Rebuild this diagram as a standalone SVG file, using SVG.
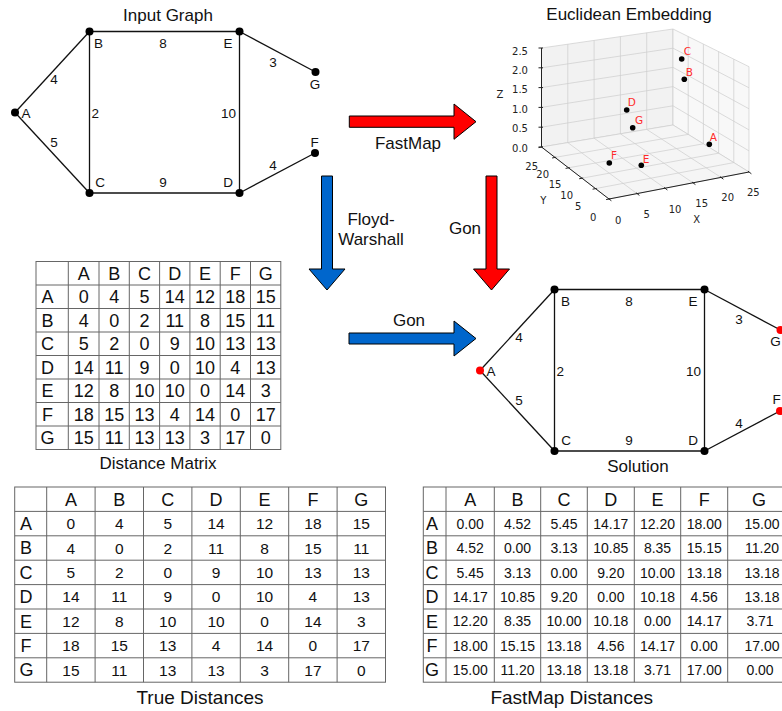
<svg xmlns="http://www.w3.org/2000/svg" width="782" height="711" viewBox="0 0 782 711">
<style>
  text { font-family: "Liberation Sans", Arial, sans-serif; fill: #111; }
  .cap { font-size: 17px; text-anchor: middle; }
  .cap19 { font-size: 19px; text-anchor: middle; }
  .lbl { font-size: 13.5px; text-anchor: middle; }
  .edge { stroke: #111; stroke-width: 1.3; fill: none; }
  .dot { fill: #000; }
  .sel { fill: #f00; }
  .arR { fill: #f00; stroke: #000; stroke-width: 1; }
  .arB { fill: #0066cc; stroke: #000; stroke-width: 1; }
  .tbl { fill: none; stroke: #666; stroke-width: 1; }
  .t18 { font-size: 18px; text-anchor: middle; }
  .t15 { font-size: 15.5px; text-anchor: middle; }
  .t13 { font-size: 14px; text-anchor: middle; }
  .grid { fill: none; stroke: #cdcdcd; stroke-width: 0.7; }
  .axis { fill: none; stroke: #222; stroke-width: 1; }
  .tick { font-family: "DejaVu Sans", sans-serif; font-size: 10px; fill: #222; text-anchor: middle; }
  .ptl { font-family: "DejaVu Sans", sans-serif; font-size: 10.5px; fill: #ff2a2a; text-anchor: middle; }
</style>

<!-- ================= Input graph ================= -->
<g id="input-graph">
  <text class="cap" x="168" y="20.5">Input Graph</text>
  <g id="input-edges" class="edge">
    <line x1="15" y1="112.5" x2="89.5" y2="31.5"/>
    <line x1="15" y1="112.5" x2="89.5" y2="193"/>
    <line x1="89.5" y1="31.5" x2="239.5" y2="31.5"/>
    <line x1="89.5" y1="31.5" x2="89.5" y2="193"/>
    <line x1="89.5" y1="193" x2="239.5" y2="193"/>
    <line x1="239.5" y1="31.5" x2="239.5" y2="193"/>
    <line x1="239.5" y1="31.5" x2="315.5" y2="72"/>
    <line x1="239.5" y1="193" x2="315" y2="153"/>
  </g>
  <g id="input-weights">
    <text class="lbl" x="54" y="83.8">4</text>
    <text class="lbl" x="54" y="147.3">5</text>
    <text class="lbl" x="163" y="48.3">8</text>
    <text class="lbl" x="95.3" y="117.8">2</text>
    <text class="lbl" x="228.5" y="117.8">10</text>
    <text class="lbl" x="163" y="186.8">9</text>
    <text class="lbl" x="273" y="66.8">3</text>
    <text class="lbl" x="273" y="169.8">4</text>
  </g>
  <g id="in-A"><circle class="dot" cx="15" cy="112.5" r="4"/><text class="lbl" x="26" y="117.8">A</text></g>
  <g id="in-B"><circle class="dot" cx="89.5" cy="31.5" r="4"/><text class="lbl" x="98.5" y="48.3">B</text></g>
  <g id="in-E"><circle class="dot" cx="239.5" cy="31.5" r="4"/><text class="lbl" x="228" y="48.3">E</text></g>
  <g id="in-C"><circle class="dot" cx="89.5" cy="193" r="4"/><text class="lbl" x="100" y="186.8">C</text></g>
  <g id="in-D"><circle class="dot" cx="239.5" cy="193" r="4"/><text class="lbl" x="228" y="186.8">D</text></g>
  <g id="in-G"><circle class="dot" cx="315.5" cy="72" r="4"/><text class="lbl" x="315" y="88.8">G</text></g>
  <g id="in-F"><circle class="dot" cx="315" cy="153" r="4"/><text class="lbl" x="314.5" y="146.8">F</text></g>
</g>

<!-- ================= Process arrows ================= -->
<g id="arrows">
  <polygon id="arrow-fastmap" class="arR" points="349.3,116 454,116 454,104 476,121.7 454,139.3 454,127.3 349.3,127.3"/>
  <text class="cap" x="408" y="149">FastMap</text>

  <polygon id="arrow-floyd" class="arB" points="321.5,176 332.5,176 332.5,269 345,269 327,290 309,269 321.5,269"/>
  <text class="cap" x="371" y="225">Floyd-</text>
  <text class="cap" x="371" y="245">Warshall</text>

  <polygon id="arrow-gon-embed" class="arR" points="486,176 497,176 497,269 509.5,269 491.5,290 473.5,269 486,269"/>
  <text class="cap" x="465" y="234">Gon</text>

  <polygon id="arrow-gon-matrix" class="arB" points="349,333 454,333 454,321 476,338.5 454,356 454,344 349,344"/>
  <text class="cap" x="409" y="326">Gon</text>
</g>

<!-- ================= Euclidean embedding (3D scatter) ================= -->
<g id="embedding">
  <text class="cap" x="629" y="20">Euclidean Embedding</text>
  <!-- back panes and floor -->
  <polygon points="541.5,147 673,125 673,29 541.5,48" fill="#f2f2f2" stroke="#cdcdcd" stroke-width="0.7"/>
  <polygon points="673,125 749,172 749,66.7 673,29" fill="#f8f8f8" stroke="#cdcdcd" stroke-width="0.7"/>
  <polygon points="609,199 749,172 673,125 541.5,147" fill="#f5f5f5" stroke="#cdcdcd" stroke-width="0.7"/>
  <path class="grid" d="
    M567.8,142.6 L567.8,44.2 M594.1,138.2 L594.1,40.4 M620.4,133.8 L620.4,36.6 M646.7,129.4 L646.7,32.8
    M541.5,127.2 L673,105.8 M541.5,107.4 L673,86.6 M541.5,87.6 L673,67.4 M541.5,67.8 L673,48.2
    M688.2,134.4 L688.2,36.5 M703.4,143.8 L703.4,44.1 M718.6,153.2 L718.6,51.6 M733.8,162.6 L733.8,59.2
    M673,105.8 L749,150.9 M673,86.6 L749,129.9 M673,67.4 L749,108.8 M673,48.2 L749,87.8
    M637,193.6 L567.8,142.6 M665,188.2 L594.1,138.2 M693,182.8 L620.4,133.8 M721,177.4 L646.7,129.4
    M595.5,188.6 L733.8,162.6 M582,178.2 L718.6,153.2 M568.5,167.8 L703.4,143.8 M555,157.4 L688.2,134.4"/>
  <!-- axis lines and ticks -->
  <path class="axis" d="M541.5,48 L541.5,147 M541.5,147 L609,199 L749,172"/>
  <path class="axis" stroke-width="0.8" d="
    M538.5,48H543 M538.5,67.8H543 M538.5,87.6H543 M538.5,107.4H543 M538.5,127.2H543 M538.5,147H543
    M542.7,146.8L538.6,147.6 M556.2,157.2L552.1,158 M569.7,167.6L565.6,168.4 M583.2,178L579.1,178.8 M596.7,188.4L592.6,189.2 M610.2,198.8L606.1,199.6
    M608,198.2L611.4,200.8 M636,192.8L639.4,195.4 M664,187.4L667.4,190 M692,182L695.4,184.6 M720,176.6L723.4,179.2 M748,171.2L751.4,173.8"/>
  <!-- tick labels -->
  <text class="tick" x="520" y="55.3">2.5</text>
  <text class="tick" x="520" y="74.1">2.0</text>
  <text class="tick" x="520" y="92.9">1.5</text>
  <text class="tick" x="520" y="112.6">1.0</text>
  <text class="tick" x="520" y="132.4">0.5</text>
  <text class="tick" x="520" y="151.6">0.0</text>
  <text class="tick" x="500" y="97.9">Z</text>

  <text class="tick" x="531.7" y="169.6">25</text>
  <text class="tick" x="542.7" y="177.9">20</text>
  <text class="tick" x="555" y="187.9">15</text>
  <text class="tick" x="566.7" y="198.6">10</text>
  <text class="tick" x="578.3" y="209.6">5</text>
  <text class="tick" x="593.3" y="220.9">0</text>
  <text class="tick" x="543.3" y="203.6">Y</text>

  <text class="tick" x="618.3" y="223.6">0</text>
  <text class="tick" x="646.7" y="217.6">5</text>
  <text class="tick" x="675" y="212.6">10</text>
  <text class="tick" x="701.7" y="206.9">15</text>
  <text class="tick" x="727.7" y="201.3">20</text>
  <text class="tick" x="753.3" y="195.9">25</text>
  <text class="tick" x="696.7" y="222.9">X</text>
  <!-- embedded points -->
  <g id="emb-C"><circle class="dot" cx="681.7" cy="59" r="2.8"/><text class="ptl" x="687.3" y="54.8">C</text></g>
  <g id="emb-B"><circle class="dot" cx="684.3" cy="79.3" r="2.8"/><text class="ptl" x="689.3" y="75.5">B</text></g>
  <g id="emb-D"><circle class="dot" cx="626.7" cy="110" r="2.8"/><text class="ptl" x="631.7" y="106.1">D</text></g>
  <g id="emb-G"><circle class="dot" cx="632.7" cy="127.7" r="2.8"/><text class="ptl" x="639" y="123.8">G</text></g>
  <g id="emb-A"><circle class="dot" cx="709.3" cy="144.3" r="2.8"/><text class="ptl" x="713.3" y="140.5">A</text></g>
  <g id="emb-F"><circle class="dot" cx="609.3" cy="163" r="2.8"/><text class="ptl" x="614" y="158.8">F</text></g>
  <g id="emb-E"><circle class="dot" cx="641.3" cy="165.3" r="2.8"/><text class="ptl" x="646" y="162.8">E</text></g>
</g>

<!-- ================= Distance matrix ================= -->
<g id="distance-matrix">
  <rect class="tbl" x="36" y="261.5" width="244.8" height="188"/>
  <path class="tbl" d="
    M68.3,261.5V449.5 M99,261.5V449.5 M129.3,261.5V449.5 M159.6,261.5V449.5 M189.9,261.5V449.5 M220.2,261.5V449.5 M250.5,261.5V449.5
    M36,285H280.8 M36,308.5H280.8 M36,332H280.8 M36,355.5H280.8 M36,379H280.8 M36,402.5H280.8 M36,426H280.8"/>
  <g class="t18">
    <text y="279.7"><tspan x="83.65">A</tspan><tspan x="114.15">B</tspan><tspan x="144.45">C</tspan><tspan x="174.75">D</tspan><tspan x="205.05">E</tspan><tspan x="235.35">F</tspan><tspan x="265.65">G</tspan></text>
    <text y="303.2"><tspan x="47.5">A</tspan><tspan x="83.65">0</tspan><tspan x="114.15">4</tspan><tspan x="144.45">5</tspan><tspan x="174.75">14</tspan><tspan x="205.05">12</tspan><tspan x="235.35">18</tspan><tspan x="265.65">15</tspan></text>
    <text y="326.7"><tspan x="47.5">B</tspan><tspan x="83.65">4</tspan><tspan x="114.15">0</tspan><tspan x="144.45">2</tspan><tspan x="174.75">11</tspan><tspan x="205.05">8</tspan><tspan x="235.35">15</tspan><tspan x="265.65">11</tspan></text>
    <text y="350.2"><tspan x="47.5">C</tspan><tspan x="83.65">5</tspan><tspan x="114.15">2</tspan><tspan x="144.45">0</tspan><tspan x="174.75">9</tspan><tspan x="205.05">10</tspan><tspan x="235.35">13</tspan><tspan x="265.65">13</tspan></text>
    <text y="373.7"><tspan x="47.5">D</tspan><tspan x="83.65">14</tspan><tspan x="114.15">11</tspan><tspan x="144.45">9</tspan><tspan x="174.75">0</tspan><tspan x="205.05">10</tspan><tspan x="235.35">4</tspan><tspan x="265.65">13</tspan></text>
    <text y="397.2"><tspan x="47.5">E</tspan><tspan x="83.65">12</tspan><tspan x="114.15">8</tspan><tspan x="144.45">10</tspan><tspan x="174.75">10</tspan><tspan x="205.05">0</tspan><tspan x="235.35">14</tspan><tspan x="265.65">3</tspan></text>
    <text y="420.7"><tspan x="47.5">F</tspan><tspan x="83.65">18</tspan><tspan x="114.15">15</tspan><tspan x="144.45">13</tspan><tspan x="174.75">4</tspan><tspan x="205.05">14</tspan><tspan x="235.35">0</tspan><tspan x="265.65">17</tspan></text>
    <text y="444.2"><tspan x="47.5">G</tspan><tspan x="83.65">15</tspan><tspan x="114.15">11</tspan><tspan x="144.45">13</tspan><tspan x="174.75">13</tspan><tspan x="205.05">3</tspan><tspan x="235.35">17</tspan><tspan x="265.65">0</tspan></text>
  </g>
  <text class="cap" x="158" y="468.5">Distance Matrix</text>
</g>

<!-- ================= Solution graph (same layout, centres in red) ================= -->
<g id="solution" transform="translate(465,258)">
  <g id="solution-edges" class="edge">
    <line x1="15" y1="112.5" x2="89.5" y2="31.5"/>
    <line x1="15" y1="112.5" x2="89.5" y2="193"/>
    <line x1="89.5" y1="31.5" x2="239.5" y2="31.5"/>
    <line x1="89.5" y1="31.5" x2="89.5" y2="193"/>
    <line x1="89.5" y1="193" x2="239.5" y2="193"/>
    <line x1="239.5" y1="31.5" x2="239.5" y2="193"/>
    <line x1="239.5" y1="31.5" x2="315.5" y2="72"/>
    <line x1="239.5" y1="193" x2="315" y2="153"/>
  </g>
  <g id="solution-weights">
    <text class="lbl" x="54" y="83.8">4</text>
    <text class="lbl" x="54" y="147.3">5</text>
    <text class="lbl" x="164" y="48.3">8</text>
    <text class="lbl" x="95.3" y="117.8">2</text>
    <text class="lbl" x="228.5" y="117.8">10</text>
    <text class="lbl" x="164" y="186.8">9</text>
    <text class="lbl" x="274" y="65.8">3</text>
    <text class="lbl" x="274" y="169.8">4</text>
  </g>
  <g id="sol-A"><circle class="sel" cx="15" cy="112.5" r="4"/><text class="lbl" x="26" y="117.8">A</text></g>
  <g id="sol-B"><circle class="dot" cx="89.5" cy="31.5" r="4"/><text class="lbl" x="100.5" y="48.3">B</text></g>
  <g id="sol-E"><circle class="dot" cx="239.5" cy="31.5" r="4"/><text class="lbl" x="228" y="48.3">E</text></g>
  <g id="sol-C"><circle class="dot" cx="89.5" cy="193" r="4"/><text class="lbl" x="101" y="186.8">C</text></g>
  <g id="sol-D"><circle class="dot" cx="239.5" cy="193" r="4"/><text class="lbl" x="228" y="186.8">D</text></g>
  <g id="sol-G"><circle class="sel" cx="315.5" cy="72" r="4"/><text class="lbl" x="310.5" y="88.3">G</text></g>
  <g id="sol-F"><circle class="sel" cx="315" cy="153" r="4"/><text class="lbl" x="311.5" y="145.8">F</text></g>
</g>
<text class="cap" x="638" y="472">Solution</text>

<!-- ================= True distances table ================= -->
<g id="true-distances">
  <rect class="tbl" x="14.7" y="487" width="370.8" height="195.2"/>
  <path class="tbl" d="
    M46.7,487V682.2 M95.1,487V682.2 M143.5,487V682.2 M191.9,487V682.2 M240.3,487V682.2 M288.7,487V682.2 M337.1,487V682.2
    M14.7,511.4H385.5 M14.7,535.8H385.5 M14.7,560.2H385.5 M14.7,584.6H385.5 M14.7,609H385.5 M14.7,633.4H385.5 M14.7,657.8H385.5"/>
  <g class="t18">
    <text y="505.6"><tspan x="70.9">A</tspan><tspan x="119.3">B</tspan><tspan x="167.7">C</tspan><tspan x="216.1">D</tspan><tspan x="264.5">E</tspan><tspan x="312.9">F</tspan><tspan x="361.3">G</tspan></text>
    <text x="26" y="530">A</text>
    <text x="26" y="554.4">B</text>
    <text x="26" y="578.8">C</text>
    <text x="26" y="603.2">D</text>
    <text x="26" y="627.6">E</text>
    <text x="26" y="652">F</text>
    <text x="26.5" y="676.4">G</text>
  </g>
  <g class="t15">
    <text y="529.2"><tspan x="70.9">0</tspan><tspan x="119.3">4</tspan><tspan x="167.7">5</tspan><tspan x="216.1">14</tspan><tspan x="264.5">12</tspan><tspan x="312.9">18</tspan><tspan x="361.3">15</tspan></text>
    <text y="553.6"><tspan x="70.9">4</tspan><tspan x="119.3">0</tspan><tspan x="167.7">2</tspan><tspan x="216.1">11</tspan><tspan x="264.5">8</tspan><tspan x="312.9">15</tspan><tspan x="361.3">11</tspan></text>
    <text y="578"><tspan x="70.9">5</tspan><tspan x="119.3">2</tspan><tspan x="167.7">0</tspan><tspan x="216.1">9</tspan><tspan x="264.5">10</tspan><tspan x="312.9">13</tspan><tspan x="361.3">13</tspan></text>
    <text y="602.4"><tspan x="70.9">14</tspan><tspan x="119.3">11</tspan><tspan x="167.7">9</tspan><tspan x="216.1">0</tspan><tspan x="264.5">10</tspan><tspan x="312.9">4</tspan><tspan x="361.3">13</tspan></text>
    <text y="626.8"><tspan x="70.9">12</tspan><tspan x="119.3">8</tspan><tspan x="167.7">10</tspan><tspan x="216.1">10</tspan><tspan x="264.5">0</tspan><tspan x="312.9">14</tspan><tspan x="361.3">3</tspan></text>
    <text y="651.2"><tspan x="70.9">18</tspan><tspan x="119.3">15</tspan><tspan x="167.7">13</tspan><tspan x="216.1">4</tspan><tspan x="264.5">14</tspan><tspan x="312.9">0</tspan><tspan x="361.3">17</tspan></text>
    <text y="675.6"><tspan x="70.9">15</tspan><tspan x="119.3">11</tspan><tspan x="167.7">13</tspan><tspan x="216.1">13</tspan><tspan x="264.5">3</tspan><tspan x="312.9">17</tspan><tspan x="361.3">0</tspan></text>
  </g>
  <text class="cap19" x="200" y="704">True Distances</text>
</g>

<!-- ================= FastMap distances table ================= -->
<g id="fastmap-distances">
  <rect class="tbl" x="423.3" y="487" width="372" height="195.2"/>
  <path class="tbl" d="
    M446,487V682.2 M494.3,487V682.2 M540.7,487V682.2 M587.3,487V682.2 M634.3,487V682.2 M680.7,487V682.2 M727.7,487V682.2
    M423.3,511.4H795 M423.3,535.8H795 M423.3,560.2H795 M423.3,584.6H795 M423.3,609H795 M423.3,633.4H795 M423.3,657.8H795"/>
  <g class="t18">
    <text y="505.6"><tspan x="470.2">A</tspan><tspan x="517.5">B</tspan><tspan x="564">C</tspan><tspan x="610.8">D</tspan><tspan x="657.5">E</tspan><tspan x="704.2">F</tspan><tspan x="759">G</tspan></text>
    <text x="432" y="530">A</text>
    <text x="432" y="554.4">B</text>
    <text x="432" y="578.8">C</text>
    <text x="432" y="603.2">D</text>
    <text x="432" y="627.6">E</text>
    <text x="432" y="652">F</text>
    <text x="432" y="676.4">G</text>
  </g>
  <g class="t13">
    <text y="528.7"><tspan x="470.2">0.00</tspan><tspan x="517.5">4.52</tspan><tspan x="564">5.45</tspan><tspan x="610.8">14.17</tspan><tspan x="657.5">12.20</tspan><tspan x="704.2">18.00</tspan><tspan x="762">15.00</tspan></text>
    <text y="553.1"><tspan x="470.2">4.52</tspan><tspan x="517.5">0.00</tspan><tspan x="564">3.13</tspan><tspan x="610.8">10.85</tspan><tspan x="657.5">8.35</tspan><tspan x="704.2">15.15</tspan><tspan x="762">11.20</tspan></text>
    <text y="577.5"><tspan x="470.2">5.45</tspan><tspan x="517.5">3.13</tspan><tspan x="564">0.00</tspan><tspan x="610.8">9.20</tspan><tspan x="657.5">10.00</tspan><tspan x="704.2">13.18</tspan><tspan x="762">13.18</tspan></text>
    <text y="601.9"><tspan x="470.2">14.17</tspan><tspan x="517.5">10.85</tspan><tspan x="564">9.20</tspan><tspan x="610.8">0.00</tspan><tspan x="657.5">10.18</tspan><tspan x="704.2">4.56</tspan><tspan x="762">13.18</tspan></text>
    <text y="626.3"><tspan x="470.2">12.20</tspan><tspan x="517.5">8.35</tspan><tspan x="564">10.00</tspan><tspan x="610.8">10.18</tspan><tspan x="657.5">0.00</tspan><tspan x="704.2">14.17</tspan><tspan x="760">3.71</tspan></text>
    <text y="650.7"><tspan x="470.2">18.00</tspan><tspan x="517.5">15.15</tspan><tspan x="564">13.18</tspan><tspan x="610.8">4.56</tspan><tspan x="657.5">14.17</tspan><tspan x="704.2">0.00</tspan><tspan x="762">17.00</tspan></text>
    <text y="675.1"><tspan x="470.2">15.00</tspan><tspan x="517.5">11.20</tspan><tspan x="564">13.18</tspan><tspan x="610.8">13.18</tspan><tspan x="657.5">3.71</tspan><tspan x="704.2">17.00</tspan><tspan x="760">0.00</tspan></text>
  </g>
  <text class="cap19" x="571.7" y="704">FastMap Distances</text>
</g>
</svg>
